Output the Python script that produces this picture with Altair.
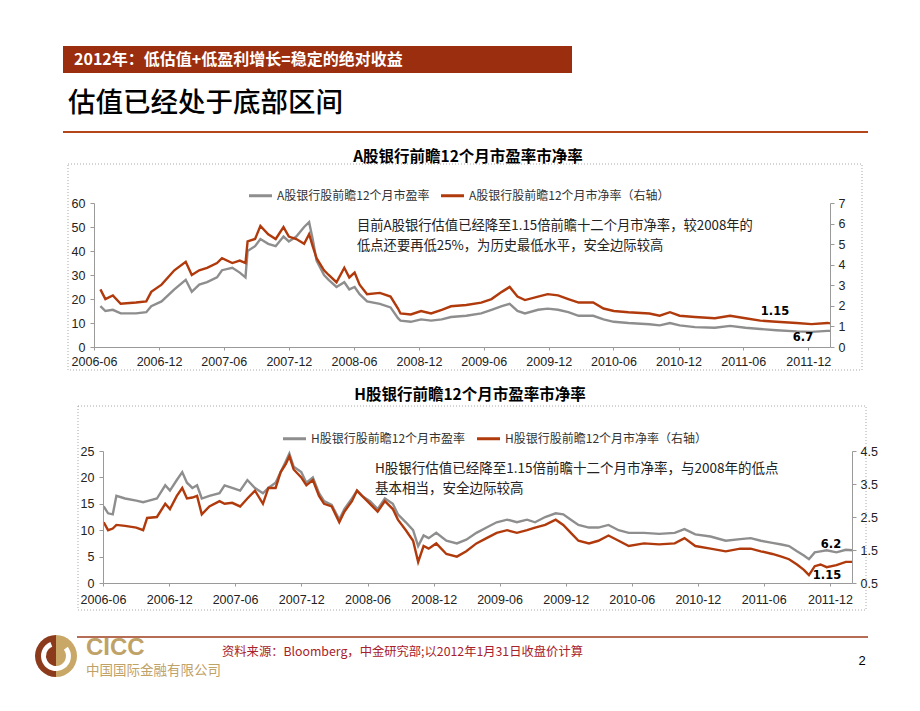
import altair as alt
import pandas as pd

# ---------------- data ----------------
a_dates = ["2006-06-19","2006-07-03","2006-07-24","2006-08-15","2006-09-27","2006-10-26","2006-11-09",
           "2006-12-08","2007-01-13","2007-02-14","2007-03-03","2007-03-24","2007-04-15","2007-05-13",
           "2007-05-27","2007-06-25","2007-07-16","2007-08-01","2007-08-07","2007-08-28","2007-09-12",
           "2007-10-04","2007-10-25","2007-11-16","2007-12-01","2007-12-22","2008-01-13","2008-01-27",
           "2008-02-06","2008-02-17","2008-03-09","2008-03-22","2008-04-13","2008-05-05","2008-05-19",
           "2008-06-03","2008-06-17","2008-07-08","2008-08-13","2008-09-12","2008-10-03","2008-10-10",
           "2008-11-08","2008-12-07","2009-01-04","2009-02-03","2009-03-01","2009-04-13","2009-05-25",
           "2009-06-23","2009-07-22","2009-08-13","2009-09-04","2009-09-25","2009-11-01","2009-11-28",
           "2009-12-27","2010-01-25","2010-02-23","2010-04-05","2010-05-04","2010-06-02","2010-07-13",
           "2010-09-10","2010-10-09","2010-11-07","2010-12-04","2011-01-16","2011-03-13","2011-04-25",
           "2011-06-07","2011-07-19","2011-09-02","2011-10-29","2011-12-10","2012-01-24","2012-01-31"]
a_pe = [17, 15, 15.5, 14, 14, 14.5, 17, 19, 24, 28, 23, 26, 27, 29, 32, 33, 31, 29, 40, 42, 45,
        43, 42, 46, 44, 46, 50, 52, 45, 36, 30, 28, 25, 27, 24, 25, 22, 19, 18, 16.5, 12, 11,
        10.5, 11.5, 11, 11.5, 12.5, 13, 14, 15.5, 17, 18, 15, 14, 15.5, 16, 15.5, 14.5, 13, 13,
        11.5, 10.5, 10, 9.5, 9, 10, 9, 8.3, 8, 8.8, 8, 7.5, 7, 6.5, 6.3, 6.7, 6.7]
a_pb = [2.80, 2.33, 2.51, 2.10, 2.16, 2.22, 2.68, 3.03, 3.73, 4.14, 3.50, 3.73, 3.85, 4.08, 4.32,
        4.08, 4.20, 4.08, 5.13, 5.25, 5.89, 5.48, 5.25, 5.83, 5.37, 5.25, 5.02, 5.48, 4.90, 4.32,
        3.73, 3.50, 3.15, 3.85, 3.38, 3.62, 3.03, 2.57, 2.63, 2.45, 1.87, 1.63, 1.58, 1.75, 1.63,
        1.81, 1.98, 2.04, 2.16, 2.33, 2.68, 2.92, 2.45, 2.28, 2.45, 2.57, 2.51, 2.33, 2.16, 2.16,
        1.87, 1.75, 1.69, 1.63, 1.52, 1.69, 1.52, 1.46, 1.40, 1.52, 1.40, 1.28, 1.23, 1.17, 1.11,
        1.17, 1.15]

h_dates = ["2006-06-03","2006-06-15","2006-06-28","2006-07-08","2006-08-01","2006-09-01","2006-09-20",
           "2006-10-01","2006-10-28","2006-11-20","2006-12-03","2006-12-22","2007-01-06","2007-01-19",
           "2007-02-03","2007-02-16","2007-03-01","2007-03-22","2007-04-19","2007-05-03","2007-05-24",
           "2007-06-15","2007-07-05","2007-07-26","2007-08-17","2007-09-01","2007-09-21","2007-10-05",
           "2007-10-19","2007-10-29","2007-11-10","2007-12-01","2007-12-15","2008-01-02","2008-01-19",
           "2008-02-02","2008-02-23","2008-03-15","2008-03-29","2008-04-19","2008-05-03","2008-05-17",
           "2008-06-08","2008-06-29","2008-07-19","2008-08-10","2008-08-24","2008-09-15","2008-10-05",
           "2008-10-19","2008-11-03","2008-11-17","2008-12-08","2009-01-05","2009-02-03","2009-03-01",
           "2009-03-29","2009-04-26","2009-05-24","2009-06-22","2009-07-19","2009-08-16","2009-09-07",
           "2009-10-05","2009-11-03","2009-11-24","2009-12-15","2010-01-05","2010-02-03","2010-03-01",
           "2010-03-29","2010-04-26","2010-05-24","2010-07-05","2010-08-16","2010-09-28","2010-10-25",
           "2010-11-24","2011-01-05","2011-02-16","2011-03-28","2011-04-26","2011-05-24","2011-06-25",
           "2011-07-20","2011-08-10","2011-09-01","2011-09-20","2011-10-04","2011-10-20","2011-11-05",
           "2011-11-22","2011-12-19","2012-01-14","2012-01-31"]
h_pe = [14.5, 13.2, 13.0, 16.5, 16.0, 15.6, 15.3, 15.5, 16.0, 18.5, 17.5, 19.5, 21.0, 19.0, 18.0,
        18.5, 16.0, 16.5, 17.0, 18.5, 18.0, 17.5, 19.5, 18.0, 17.0, 18.0, 19.0, 21.0, 23.0, 24.5,
        22.0, 21.0, 19.0, 20.0, 17.0, 15.5, 14.8, 12.0, 14.0, 16.0, 17.5, 16.5, 15.5, 14.0, 16.0,
        15.0, 13.0, 11.5, 10.0, 7.0, 9.0, 8.5, 9.5, 8.0, 7.5, 8.2, 9.5, 10.5, 11.5, 12.0, 11.5,
        12.0, 11.5, 12.5, 13.2, 13.0, 12.0, 11.0, 10.5, 10.5, 11.0, 10.0, 9.5, 9.5, 9.3, 9.5, 10.2,
        9.2, 8.8, 8.0, 8.3, 8.5, 8.0, 7.6, 7.3, 7.0, 6.0, 5.2, 4.5, 5.8, 6.0, 6.2, 5.8, 6.3, 6.2]
h_pb = [2.34, 2.10, 2.15, 2.26, 2.23, 2.18, 2.10, 2.47, 2.50, 2.90, 2.74, 3.14, 3.38, 3.06, 3.09,
        3.14, 2.58, 2.82, 2.98, 2.90, 2.93, 2.82, 3.06, 3.30, 2.90, 3.38, 3.38, 3.86, 4.10, 4.34,
        3.94, 3.70, 3.46, 3.62, 3.14, 2.90, 2.82, 2.34, 2.66, 2.98, 3.30, 3.14, 2.90, 2.66, 2.98,
        2.74, 2.42, 2.10, 1.78, 1.14, 1.62, 1.54, 1.70, 1.38, 1.30, 1.46, 1.70, 1.86, 2.02, 2.10,
        2.02, 2.10, 2.18, 2.26, 2.42, 2.26, 2.02, 1.78, 1.70, 1.78, 1.94, 1.78, 1.62, 1.70, 1.67,
        1.70, 1.86, 1.62, 1.54, 1.46, 1.54, 1.54, 1.46, 1.38, 1.30, 1.22, 1.06, 0.90, 0.74, 1.01,
        1.06, 0.98, 1.04, 1.14, 1.14]

a_pe_name = "A股银行股前瞻12个月市盈率"
a_pb_name = "A股银行股前瞻12个月市净率（右轴）"
h_pe_name = "H股银行股前瞻12个月市盈率"
h_pb_name = "H股银行股前瞻12个月市净率（右轴）"

tick_months = [(2006, 6), (2006, 12), (2007, 6), (2007, 12), (2008, 6), (2008, 12), (2009, 6),
               (2009, 12), (2010, 6), (2010, 12), (2011, 6), (2011, 12)]
a_left_ticks = [0, 10, 20, 30, 40, 50, 60]
a_right_ticks = [0, 1, 2, 3, 4, 5, 6, 7]
h_left_ticks = [0, 5, 10, 15, 20, 25]
h_right_ticks = [0.5, 1.5, 2.5, 3.5, 4.5]

header_text = "2012年：低估值+低盈利增长=稳定的绝对收益"
page_title = "估值已经处于底部区间"
a_title = "A股银行前瞻12个月市盈率市净率"
h_title = "H股银行前瞻12个月市盈率市净率"
a_note1 = "目前A股银行估值已经降至1.15倍前瞻十二个月市净率，较2008年的"
a_note2 = "低点还要再低25%，为历史最低水平，安全边际较高"
h_note1 = "H股银行估值已经降至1.15倍前瞻十二个月市净率，与2008年的低点"
h_note2 = "基本相当，安全边际较高"
source_text = "资料来源：Bloomberg，中金研究部;以2012年1月31日收盘价计算"

# ---------------- styling ----------------
GRAY = "#8E8E8E"
ORANGE = "#B03A0C"
CJK = "Noto Sans CJK SC"
NUM = "Liberation Sans Narrow, Liberation Sans, Arial, sans-serif"
BOLDNUM = "DejaVu Sans, Verdana, sans-serif"
DUMMY = pd.DataFrame({"k": [0]})

W1, H1 = 736, 144
W2, H2 = 749, 132


def xscale():
    return alt.Scale(type="utc", domain=[alt.DateTime(year=2006, month=6, date=1, utc=True),
                                         alt.DateTime(year=2012, month=1, date=31, utc=True)])


def xaxis(pad):
    return alt.Axis(values=[alt.DateTime(year=y, month=m, date=1, utc=True) for y, m in tick_months],
                    format="%Y-%m", labelFlush=False, title=None, tickSize=3, labelPadding=pad,
                    labelAngle=0, labelOverlap=False, grid=False, zindex=2)


def txt(x, y, text, **kw):
    return alt.Chart(DUMMY).mark_text(text=text, **kw).encode(x=alt.value(x), y=alt.value(y))


def rect(x, x2, y, y2, **kw):
    return alt.Chart(DUMMY).mark_rect(**kw).encode(
        x=alt.value(x), x2=alt.value(x2), y=alt.value(y), y2=alt.value(y2))


def hrule(x, x2, y, **kw):
    return alt.Chart(DUMMY).mark_rule(**kw).encode(x=alt.value(x), x2=alt.value(x2), y=alt.value(y))


def arc(x, y, t1, t2, r, r2, color):
    return alt.Chart(DUMMY).mark_arc(theta=t1, theta2=t2, radius=r, radius2=r2, color=color).encode(
        x=alt.value(x), y=alt.value(y))


def legend(lx, ly):
    return alt.Legend(title=None, orient="none", legendX=lx, legendY=ly, direction="horizontal",
                      columns=2, symbolType="stroke", symbolStrokeWidth=3, symbolSize=530,
                      labelFont=CJK, labelFontSize=12, labelColor="#333333", columnPadding=4,
                      labelOffset=3, labelLimit=400, padding=0, zindex=2)


def line_layers(dates, pe, pb, pe_name, pb_name, ldom, lticks, rdom, rticks, rfmt, lx, ly, xpad):
    df_pe = pd.DataFrame({"date": dates, "v": pe, "s": pe_name})
    df_pb = pd.DataFrame({"date": dates, "v": pb, "s": pb_name})
    cscale = alt.Scale(domain=[pe_name, pb_name], range=[GRAY, ORANGE])
    gray = alt.Chart(df_pe).mark_line(strokeWidth=2.4).encode(
        x=alt.X("date:T", scale=xscale(), axis=xaxis(xpad)),
        y=alt.Y("v:Q", scale=alt.Scale(domain=ldom, nice=False, zero=False),
                axis=alt.Axis(values=lticks, title=None, tickSize=4, labelPadding=5, grid=False,
                              zindex=2)),
        color=alt.Color("s:N", scale=cscale, legend=legend(lx, ly)),
    )
    orange = alt.Chart(df_pb).mark_line(strokeWidth=2.4).encode(
        x=alt.X("date:T", scale=xscale(), axis=xaxis(xpad)),
        y=alt.Y("v:Q", scale=alt.Scale(domain=rdom, nice=False, zero=False),
                axis=alt.Axis(values=rticks, format=rfmt, orient="right", title=None, tickSize=4,
                              labelPadding=4, grid=False, zindex=2)),
        color=alt.Color("s:N", scale=cscale, legend=legend(lx, ly)),
    )
    return gray, orange


NOTE = dict(font=CJK, color="#222222", align="left", baseline="middle")
BOLDLBL = dict(font=BOLDNUM, fontSize=11.5, fontWeight="bold", color="black",
               align="center", baseline="middle")

# ---------------- chart A (plot origin at page 94,203) ----------------
g1, o1 = line_layers(a_dates, a_pe, a_pb, a_pe_name, a_pb_name, [0, 60], a_left_ticks, [0, 7],
                     a_right_ticks, "d", 153, -21, 5)

left1 = alt.layer(
    rect(-86, 816, -195, 497, fill="white"),
    rect(-31, 478, -157, -130, fill="#9B2E0E"),
    txt(-20, -143, header_text, font=CJK, fontSize=16, fontWeight="bold", color="white",
        align="left", baseline="middle"),
    txt(-26, -99, page_title, font=CJK, fontSize=27.5, fontWeight=500, color="black",
        align="left", baseline="middle"),
    hrule(-31, 774, -71, color="#B5461B", strokeWidth=2.2),
    txt(374, -46, a_title, font=CJK, fontSize=15.5, fontWeight="bold", color="black",
        align="center", baseline="middle"),
    rect(-26, 768, -39, 167, fill="transparent", stroke="#A8A8A8", strokeDash=[1, 2], strokeWidth=1),
    g1,
)
right1 = alt.layer(
    o1,
    txt(263, 23, a_note1, fontSize=13.3, **NOTE),
    txt(263, 42.5, a_note2, fontSize=13.3, **NOTE),
    txt(681, 109, "1.15", **BOLDLBL),
    txt(709, 135, "6.7", **BOLDLBL),
)
chart1 = alt.layer(left1, right1).resolve_scale(y="independent").properties(width=W1, height=H1)

# ---------------- chart H (plot origin at page 103,451) ----------------
g2, o2 = line_layers(h_dates, h_pe, h_pb, h_pe_name, h_pb_name, [0, 25], h_left_ticks, [0.5, 4.5],
                     h_right_ticks, ".1f", 187, -26, 7)

left2 = alt.layer(
    txt(367, -56, h_title, font=CJK, fontSize=15.5, fontWeight="bold", color="black",
        align="center", baseline="middle"),
    rect(-25, 763, -45, 159, fill="transparent", stroke="#A8A8A8", strokeDash=[1, 2], strokeWidth=1),
    hrule(-26, 765, 186, color="#9E3D1E", strokeWidth=1.5),
    arc(-47, 205, 3.1416, 6.2832, 21, 0, "#8B3A1C"),
    arc(-47, 205, 0, 3.1416, 21, 0, "#C8A767"),
    arc(-47, 205, 0.9, 5.9, 15, 10, "white"),
    arc(-47, 205, 3.1416, 6.2832, 7, 0, "#8B3A1C"),
    arc(-47, 205, 0, 3.1416, 7, 0, "#C8A767"),
    txt(-17, 197, "CICC", font="Liberation Sans, Arial, sans-serif", fontSize=24, fontWeight="bold",
        color="#BFA267", align="left", baseline="middle"),
    txt(-17, 220, "中国国际金融有限公司", font=CJK, fontSize=13.5, color="#BFA267",
        align="left", baseline="middle"),
    txt(119, 201, source_text, font=CJK, fontSize=12.3, color="#A8202A", align="left",
        baseline="middle"),
    txt(759, 210, "2", font="Liberation Sans, Arial, sans-serif", fontSize=13, color="black",
        align="center", baseline="middle"),
    g2,
)
right2 = alt.layer(
    o2,
    txt(272, 18, h_note1, fontSize=13.5, **NOTE),
    txt(272, 38, h_note2, fontSize=13.5, **NOTE),
    txt(728, 94, "6.2", **BOLDLBL),
    txt(724, 125, "1.15", **BOLDLBL),
)
chart2 = alt.layer(left2, right2).resolve_scale(y="independent").properties(width=W2, height=H2)

spacer = alt.Chart(DUMMY).mark_rule(opacity=0).encode(
    x=alt.value(1), y=alt.value(1), y2=alt.value(2)).properties(width=9, height=H2)

row2 = alt.hconcat(spacer, chart2, spacing=0, bounds="flush")

chart = (
    alt.vconcat(chart1, row2, spacing=104, bounds="flush")
    .resolve_scale(color="independent", x="independent", y="independent")
    .properties(padding=0, background="white")
    .configure_view(stroke=None)
    .configure_axis(labelFont=NUM, labelFontSize=12.5, labelColor="#222222", domainColor="#9A9A9A",
                    tickColor="#9A9A9A", grid=False)
)

chart.save("out.html", embed_options={"renderer": "svg", "actions": False})
